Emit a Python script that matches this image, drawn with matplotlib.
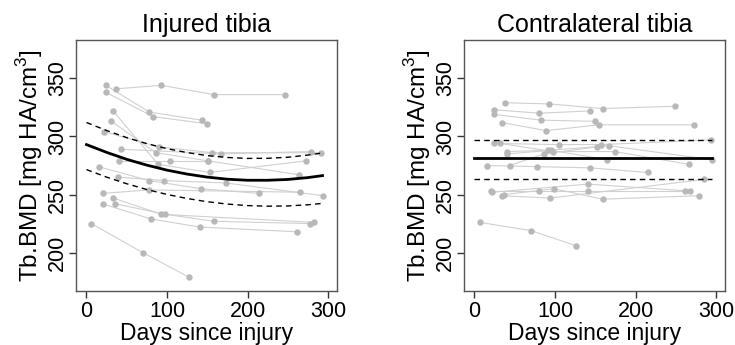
import matplotlib
matplotlib.use("Agg")
import matplotlib.pyplot as plt

# ---------------- data ----------------
# Injured tibia: per-subject days and Tb.BMD values
inj_days = [
    [6, 70, 127], [37, 93, 158, 247], [24, 78, 143], [24, 83, 149],
    [33, 89, 153, 273], [31, 86, 151, 264], [22, 90, 156, 291],
    [43, 167, 279], [40, 104, 151], [15, 78, 142, 214],
    [39, 96, 173, 294], [20, 78, 265], [20, 80, 141, 261],
    [36, 98, 158, 278], [33, 93, 283],
]
inj_bmd = [
    [225, 200, 179], [341, 344, 336, 336], [344, 321, 314], [338, 317, 311],
    [322, 276, 269, 279], [313, 286, 279, 267], [304, 291, 286, 286],
    [289, 285, 287], [279, 279, 279], [274, 262, 255, 251],
    [265, 262, 260, 249], [251, 254, 252], [242, 229, 222, 218],
    [242, 233, 227, 225], [247, 233, 226],
]
# Contralateral tibia
con_days = [
    [7, 70, 126], [38, 93, 159, 249], [24, 80, 144], [24, 83, 150],
    [34, 89, 154, 273], [16, 78, 143, 215], [24, 105, 157, 293],
    [32, 97, 174, 266], [40, 91, 167, 295], [40, 95, 165],
    [44, 86, 152], [21, 80, 141, 261], [37, 99, 159, 279],
    [34, 94, 285], [22, 141, 267],
]
con_bmd = [
    [226, 219, 206], [329, 328, 324, 326], [323, 320, 322], [319, 314, 313],
    [312, 305, 310, 310], [275, 274, 273, 269], [294, 293, 293, 297],
    [294, 287, 287, 276], [287, 288, 292, 280], [285, 288, 280],
    [275, 285, 291], [253, 253, 253, 253], [250, 255, 246, 249],
    [249, 247, 263], [252, 259, 253],
]
# Model fit curves
fit_days = [0, 25, 50, 75, 100, 125, 150, 175, 200, 225, 250, 275, 293]
inj_fit = [293.0, 286.3, 280.3, 275.3, 271.0, 267.6, 265.0, 263.2, 262.3, 262.3, 263.0, 264.6, 266.3]
inj_upper = [312.0, 305.1, 299.0, 293.8, 289.5, 286.1, 283.5, 281.9, 281.1, 281.2, 282.1, 284.0, 285.8]
inj_lower = [271.5, 265.0, 259.3, 254.3, 250.1, 246.6, 243.8, 241.8, 240.5, 240.0, 240.2, 241.2, 242.4]
con_line_days = [0, 295]
con_fit = [281.5, 281.5]
con_upper = [296.6, 296.6]
con_lower = [263.7, 263.7]

titles = ["Injured tibia", "Contralateral tibia"]
xticks = [0, 100, 200, 300]
yticks = [200, 250, 300, 350]
xlabel = "Days since injury"
ylabel = r"Tb.BMD [mg HA/cm$^3$]"

sans = "Liberation Sans"
plt.rcParams["mathtext.fontset"] = "custom"
plt.rcParams["mathtext.rm"] = sans

fig = plt.figure(figsize=(7.35, 3.45), dpi=100)
axes = [fig.add_axes([76/735, 54/345, 261/735, 251/345]),
        fig.add_axes([464/735, 54/345, 261/735, 251/345])]

panels = [
    (inj_days, inj_bmd, fit_days, inj_fit, inj_upper, inj_lower),
    (con_days, con_bmd, con_line_days, con_fit, con_upper, con_lower),
]

for ax, title, (days, bmd, fd, ff, fu, fl) in zip(axes, titles, panels):
    for d, b in zip(days, bmd):
        ax.plot(d, b, color="#d0d0d0", lw=0.8, zorder=1)
        ax.plot(d, b, ls="none", marker="o", ms=3.6, mfc="#b8b8b8", mec="#b8b8b8", zorder=2)
    ax.plot(fd, ff, color="black", lw=2.0, zorder=3)
    ax.plot(fd, fu, color="black", lw=1.0, ls=(0, (4, 3)), zorder=3)
    ax.plot(fd, fl, color="black", lw=1.0, ls=(0, (4, 3)), zorder=3)

    ax.set_xlim(-13, 311)
    ax.set_ylim(167, 383)
    ax.set_xticks(xticks)
    ax.set_yticks(yticks)
    ax.set_xticklabels([str(t) for t in xticks], fontfamily=sans, fontsize=15.5)
    ax.set_yticklabels([str(t) for t in yticks], fontfamily=sans, fontsize=15.5,
                       rotation=90, va="center")
    ax.tick_params(axis="both", direction="out", length=5, width=1, color="#333333")
    ax.tick_params(axis="x", pad=2)
    ax.tick_params(axis="y", pad=0.5)
    for s in ax.spines.values():
        s.set_color("#555555")
        s.set_linewidth(1.0)
    ax.set_title(title, fontfamily=sans, fontsize=18, pad=6)
    ax.set_xlabel(xlabel, fontfamily=sans, fontsize=16.5, labelpad=0)
    ax.set_ylabel(ylabel, fontfamily=sans, fontsize=17.5, labelpad=2)

fig.savefig("out.png", dpi=100)
